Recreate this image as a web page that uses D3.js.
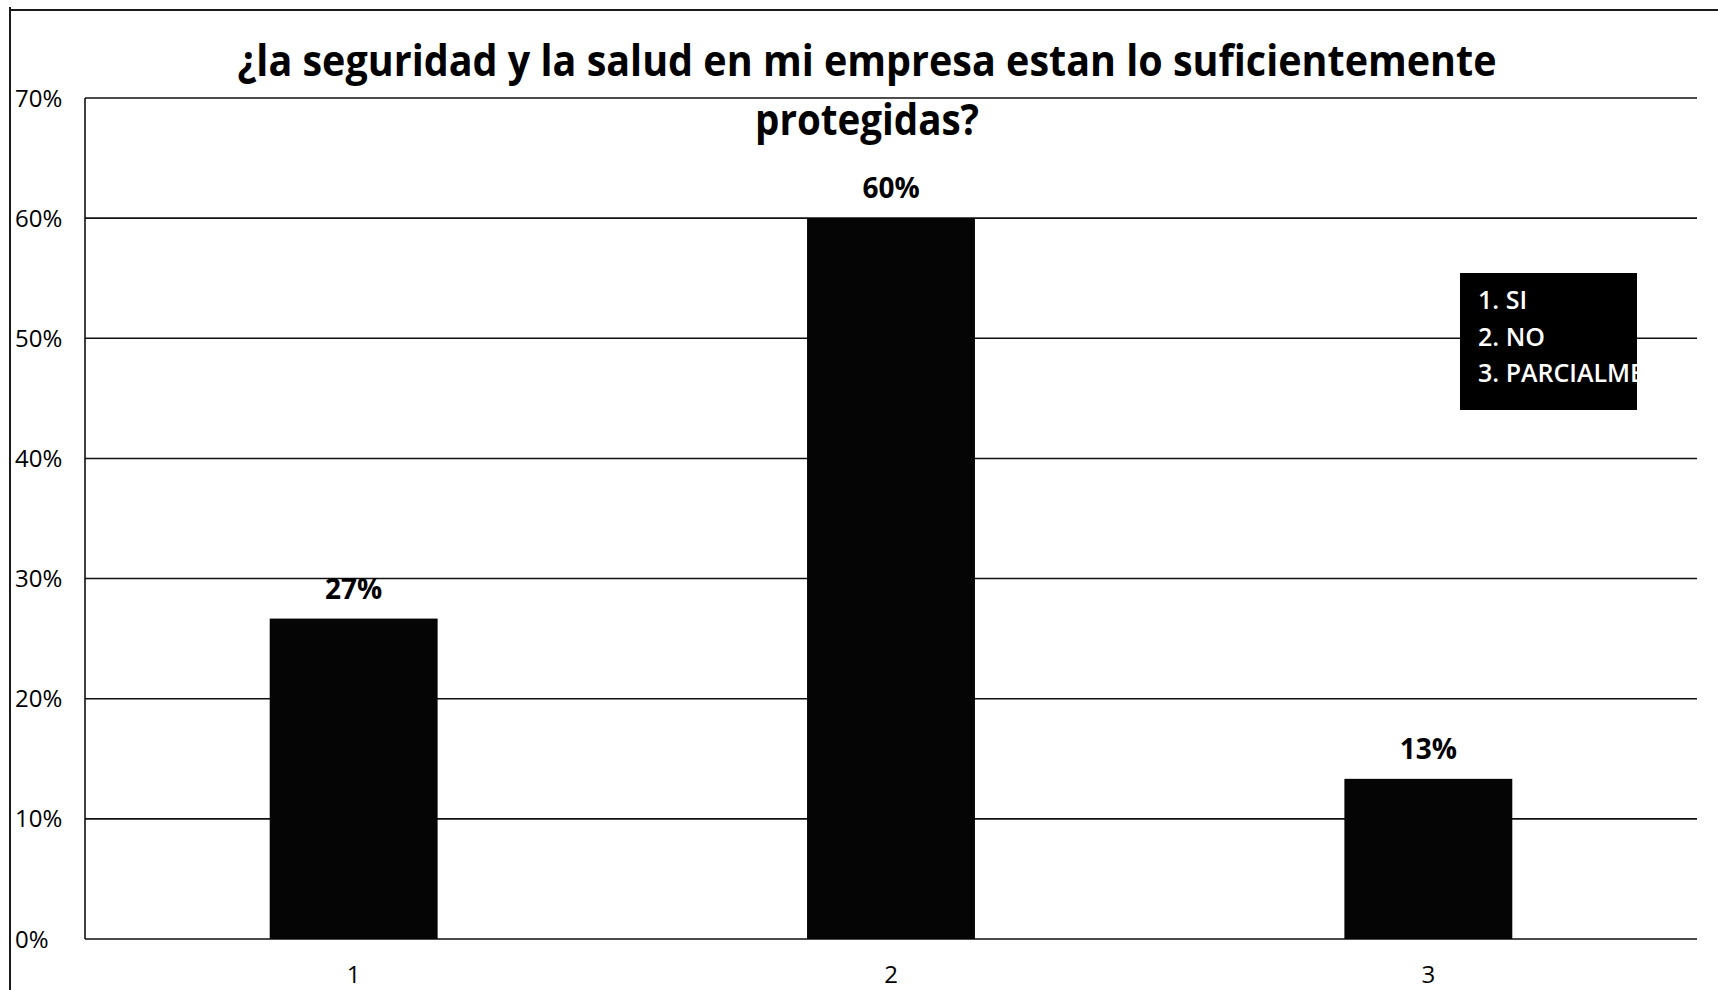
<!DOCTYPE html>
<html><head><meta charset="utf-8">
<script src="https://cdn.jsdelivr.net/npm/d3@7"></script>
<style>body{margin:0;background:#fff}svg{display:block}text{font-family:"Open Sans",sans-serif}</style>
</head><body><svg id="c" width="1718" height="990"></svg>
<script>
const categories = ["1", "2", "3"];
const values = [26.67, 60, 13.33];
const valueLabels = ["27%", "60%", "13%"];
const yTicks = [0, 10, 20, 30, 40, 50, 60, 70];
const legendItems = ["1. SI", "2. NO", "3. PARCIALMENTE"];
const titleLines = ["¿la seguridad y la salud en mi empresa estan lo suficientemente", "protegidas?"];

const svg = d3.select("#c");
const plot = {left: 85, right: 1697, top: 98, bottom: 939};

const x = d3.scaleBand().domain(categories).range([plot.left, plot.right])
  .paddingInner(0.6875).paddingOuter(0.34375);
const y = d3.scaleLinear().domain([0, 70]).range([plot.bottom, plot.top]);

// outer frame (left and top)
svg.append("line").attr("x1", 10).attr("x2", 10).attr("y1", 7).attr("y2", 990)
  .attr("stroke", "#1a1a1a").attr("stroke-width", 2);
svg.append("line").attr("x1", 10).attr("x2", 1718).attr("y1", 10).attr("y2", 10)
  .attr("stroke", "#1a1a1a").attr("stroke-width", 2);

// gridlines
svg.append("g").selectAll("line").data(yTicks).join("line")
  .attr("x1", plot.left).attr("x2", plot.right)
  .attr("y1", d => y(d)).attr("y2", d => y(d))
  .attr("stroke", "#111").attr("stroke-width", 1.6);
// plot left edge
svg.append("line").attr("x1", plot.left).attr("x2", plot.left)
  .attr("y1", y(70)).attr("y2", y(0)).attr("stroke", "#111").attr("stroke-width", 1.6);

// y tick labels
svg.append("g").selectAll("text").data(yTicks).join("text")
  .attr("x", 15).attr("y", d => y(d) + 8.5)
  .attr("font-size", 24).attr("fill", "#000")
  .text(d => d + "%");

// bars
svg.append("g").selectAll("rect").data(values).join("rect")
  .attr("x", (d, i) => x(categories[i]))
  .attr("width", x.bandwidth())
  .attr("y", d => y(d))
  .attr("height", d => y(0) - y(d))
  .attr("fill", "#050505");

// value labels
svg.append("g").selectAll("text").data(values).join("text")
  .attr("x", (d, i) => x(categories[i]) + x.bandwidth() / 2)
  .attr("y", d => y(d) - 20)
  .attr("text-anchor", "middle").attr("font-size", 28).attr("font-weight", 700)
  .attr("fill", "#000")
  .text((d, i) => valueLabels[i]);

// x tick labels
svg.append("g").selectAll("text").data(categories).join("text")
  .attr("x", d => x(d) + x.bandwidth() / 2).attr("y", 983)
  .attr("text-anchor", "middle").attr("font-size", 24).attr("fill", "#000")
  .text(d => d);

// title
const titleWidths = [1259, 224];
const titleY = [76, 135];
svg.append("g").selectAll("text").data(titleLines).join("text")
  .attr("x", 867).attr("y", (d, i) => titleY[i])
  .attr("text-anchor", "middle").attr("font-size", 43).attr("font-weight", 700)
  .attr("textLength", (d, i) => titleWidths[i]).attr("lengthAdjust", "spacingAndGlyphs")
  .attr("fill", "#000")
  .text(d => d);

// legend box
const lg = {x: 1460, y: 273, w: 177, h: 137};
svg.append("clipPath").attr("id", "lgclip").append("rect")
  .attr("x", lg.x).attr("y", lg.y).attr("width", lg.w).attr("height", lg.h);
svg.append("rect").attr("x", lg.x).attr("y", lg.y).attr("width", lg.w).attr("height", lg.h)
  .attr("fill", "#000");
svg.append("g").attr("clip-path", "url(#lgclip)").selectAll("text").data(legendItems).join("text")
  .attr("x", lg.x + 18).attr("y", (d, i) => 309 + i * 36.5)
  .attr("font-size", 25).attr("font-weight", 600).attr("fill", "#fff")
  .text(d => d);
</script></body></html>
